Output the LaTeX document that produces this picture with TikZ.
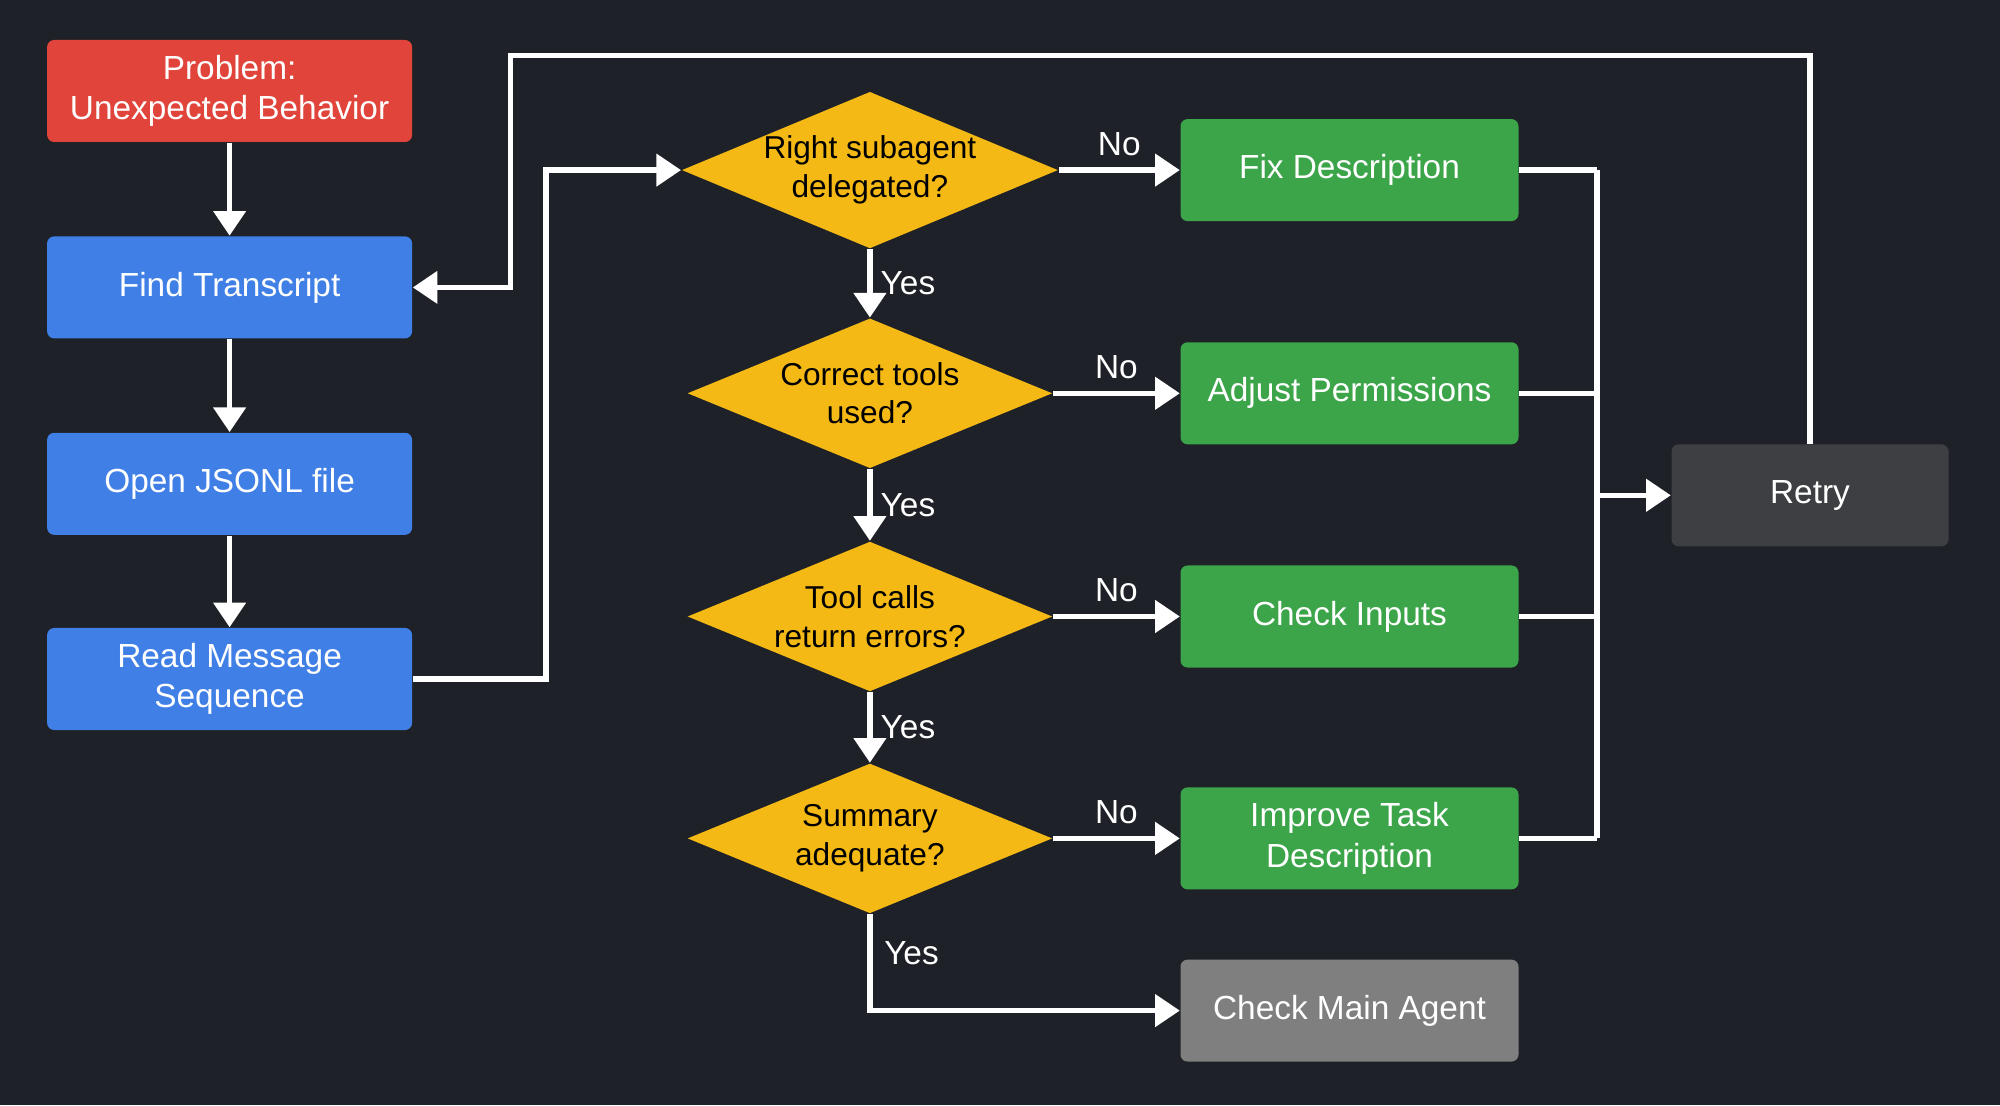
\documentclass[tikz,border=0pt]{standalone}
\usepackage{fontspec}
\setmainfont{Liberation Sans}
\usetikzlibrary{arrows.meta,shapes.geometric}
\definecolor{bgdark}{HTML}{1E2127}
\definecolor{redbox}{HTML}{E0443A}
\definecolor{bluebox}{HTML}{3F7FE6}
\definecolor{yellowdia}{HTML}{F5B915}
\definecolor{greenbox}{HTML}{3CA54A}
\definecolor{graybox}{HTML}{7F7F7F}
\definecolor{retrybox}{HTML}{3D3F43}

\def\colA{2.296}
\def\colB{8.699}
\def\colC{13.495}
\def\busx{15.97}

\tikzset{
  box/.style={rectangle, rounded corners=2pt, minimum width=3.65cm, minimum height=1.02cm,
    text=white, align=center, font=\fontsize{9.5}{11.5}\selectfont},
  act/.style={box, fill=greenbox, minimum width=3.38cm},
  dec/.style={diamond, fill=yellowdia, minimum width=3.65cm, minimum height=1.5cm, inner sep=0pt,
    aspect=2.4, text=black, align=center, font=\fontsize{9}{11}\selectfont},
  flow/.style={white, line width=1.5pt, -{Triangle[length=7pt,width=9pt]}},
  lbl/.style={text=white, font=\fontsize{9.5}{11}\selectfont},
}

\begin{document}
\begin{tikzpicture}
\fill[bgdark] (0,0) rectangle (20,11.05);
\useasboundingbox (0,0) rectangle (20,11.05);

% left column
\node[box, fill=redbox] (problem) at (\colA,10.14) {Problem:\\Unexpected Behavior};
\node[box, fill=bluebox] (find) at (\colA,8.176) {Find Transcript};
\node[box, fill=bluebox] (open) at (\colA,6.212) {Open JSONL file};
\node[box, fill=bluebox] (read) at (\colA,4.26) {Read Message\\Sequence};

% decisions and fixes
\foreach \y/\q/\fix [count=\i] in {
  9.349/{Right subagent\\delegated?}/{Fix Description},
  7.117/{Correct tools\\used?}/{Adjust Permissions},
  4.885/{Tool calls\\return errors?}/{Check Inputs},
  2.666/{Summary\\adequate?}/{Improve Task\\Description}} {
  \node[dec] (dec_\i) at (\colB,\y) {\q};
  \node[act] (fix_\i) at (\colC,\y) {\fix};
  \draw[flow] (dec_\i) -- node[lbl, above] {No} (fix_\i);
  \draw[white, line width=1.5pt] (fix_\i.east) -- (\busx,\y);
}
\node[box, fill=graybox, minimum width=3.38cm] (mainagent) at (\colC,0.944) {Check Main Agent};
\node[box, fill=retrybox, minimum width=2.77cm] (retry) at (18.1,6.097) {Retry};

% left chain
\draw[flow] (problem) -- (find);
\draw[flow] (find) -- (open);
\draw[flow] (open) -- (read);
\draw[flow] (read.east) -| (5.459,9.349) -- (dec_1.west);

% yes chain
\foreach \i/\j in {1/2,2/3,3/4} {
  \draw[flow] (dec_\i) -- node[lbl, right, xshift=-1pt] {Yes} (dec_\j);
}
\draw[flow] (dec_4.south) |- node[lbl, pos=0.2, right] {Yes} (mainagent.west);

% bus to retry and loop back
\draw[white, line width=1.5pt] (\busx,9.349) -- (\busx,2.666);
\draw[flow] (\busx,6.097) -- (retry.west);
\draw[flow] (retry.north) |- (5.102,10.497) |- (find.east);

\end{tikzpicture}
\end{document}
